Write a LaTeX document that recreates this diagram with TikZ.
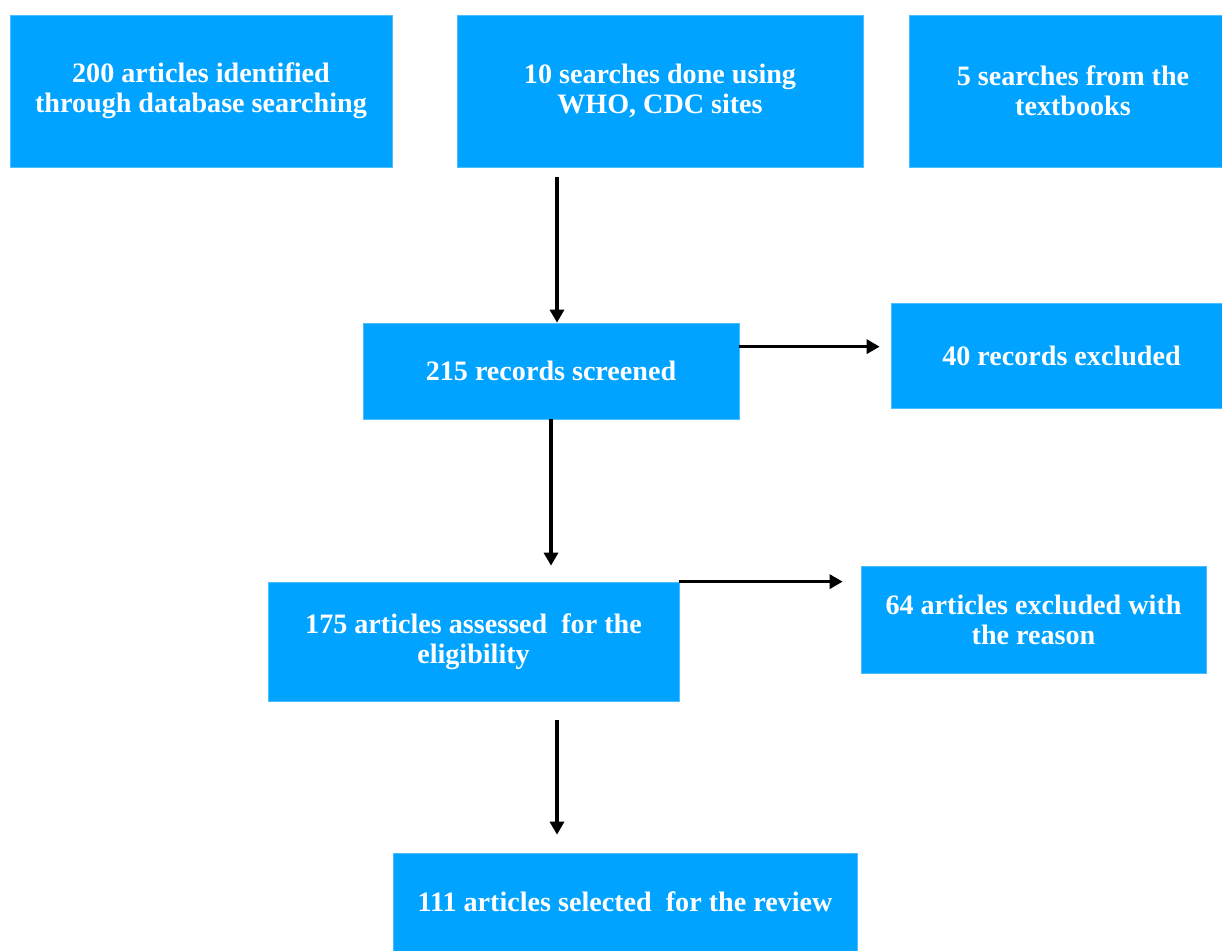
\documentclass[tikz,border=0pt]{standalone}
\usepackage{fontspec}
\setmainfont{Liberation Serif}
\usepackage{xcolor}
\usetikzlibrary{arrows.meta, calc, positioning}
\definecolor{boxblue}{RGB}{0, 163, 255}

\begin{document}
\begin{tikzpicture}[
    box/.style={fill=boxblue, draw=boxblue!70!white, line width=0.4pt, inner sep=0pt,
        text=white, align=center, font=\fontsize{16}{17}\selectfont\bfseries},
    arr/.style={-{Triangle[length=0.26cm, width=0.28cm]}, line width=1.8pt, black}
]
    % Page frame
    \useasboundingbox (0,0) rectangle (24.44,-19.02);

    % Sources (top row)
    \node[box, minimum width=7.64cm, minimum height=3.04cm] (db) at (4.02,-1.82)
        {200 articles identified\\through database searching};
    \node[box, minimum width=8.12cm, minimum height=3.04cm] (web) at (13.20,-1.82)
        {10 searches done using\\WHO, CDC sites};
    \node[box, minimum width=6.26cm, minimum height=3.04cm] (books) at (21.31,-1.82)
        {\hspace{0.3cm}5 searches from the\\\hspace{0.3cm}textbooks};

    % Screening
    \node[box, minimum width=7.52cm, minimum height=1.92cm] (screen) at (11.02,-7.42)
        {215 records screened};
    \node[box, minimum width=6.62cm, minimum height=2.10cm] (excl1) at (21.13,-7.11)
        {\hspace{0.2cm}40 records excluded};

    % Eligibility
    \node[box, minimum width=8.22cm, minimum height=2.38cm] (elig) at (9.47,-12.83)
        {175 articles assessed\ \ for the\\eligibility};
    \node[box, minimum width=6.90cm, minimum height=2.14cm] (excl2) at (20.67,-12.39)
        {64 articles excluded with\\the reason};

    % Included
    \node[box, minimum width=9.28cm, minimum height=1.96cm] (review) at (12.50,-18.04)
        {111 articles selected\ \ for the review};

    % Free arrow ends
    \coordinate (s1) at (11.14,-3.54);
    \coordinate (s2) at (11.14,-14.40);

    % Arrows
    \draw[arr] (s1) -- (s1 |- screen.north);
    \draw[arr] ([yshift=-0.48cm]screen.north east) -- ([xshift=-0.22cm,yshift=-0.48cm]screen.north east -| excl1.west);
    \draw[arr] (screen.south) -- ([yshift=0.32cm]screen.south |- elig.north);
    \draw[arr] (elig.north east) -- ([xshift=-0.36cm]elig.north east -| excl2.west);
    \draw[arr] (s2) -- ([yshift=0.36cm]s2 |- review.north);
\end{tikzpicture}
\end{document}
